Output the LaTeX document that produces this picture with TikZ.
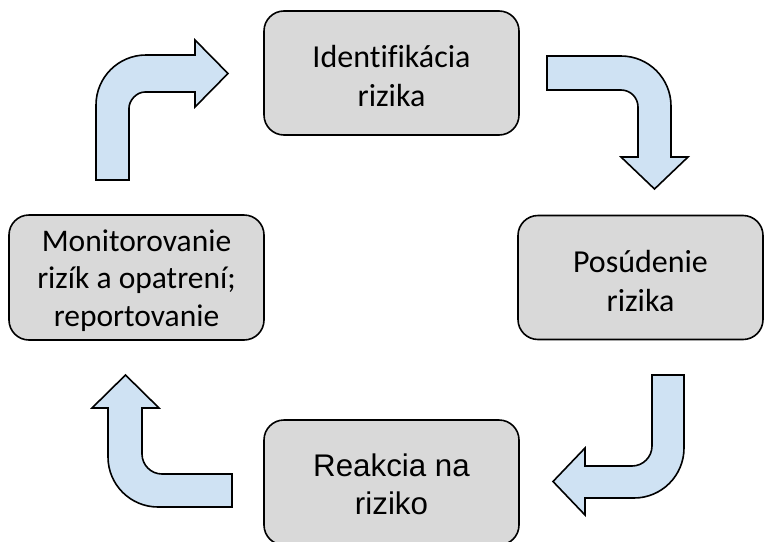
\documentclass[tikz,border=0pt]{standalone}
\usepackage{fontspec}
\setmainfont{Carlito}[Ligatures=NoCommon]
\newfontfamily\arialfont{Liberation Sans}
\definecolor{boxgray}{HTML}{D9D9D9}
\definecolor{arrowblue}{HTML}{CFE2F3}
\begin{document}
\begin{tikzpicture}[x=1pt,y=-1pt,
  stagebox/.style={draw=black, line width=1.6pt, fill=boxgray, rounded corners=20pt,
    inner sep=0pt},
  stagetext/.style={align=center, inner sep=0pt, font=\fontsize{32}{39}\selectfont},
  blockarrow/.style={draw=black, line width=1.6pt, fill=arrowblue, line join=miter}]
\useasboundingbox (0,0) rectangle (765,541);

% process stages
\node[stagebox, minimum width=255pt, minimum height=124pt] (ident) at (391.5,73) {};
\node[stagetext] (identtext) at ([yshift=-3.5pt]ident.center) {Identifikácia\\rizika};

\node[stagebox, minimum width=245pt, minimum height=124pt] (assess) at (640.5,277.5) {};
\node[stagetext] (assesstext) at ([yshift=-4pt]assess.center) {Posúdenie\\rizika};

\node[stagebox, minimum width=255pt, minimum height=125pt] (react) at (391.5,482.5) {};
\node[stagetext, font=\arialfont\fontsize{31.3}{38}\selectfont] (reacttext)
  at ([yshift=-1.5pt]react.center) {Reakcia na\\riziko};

\node[stagebox, minimum width=255pt, minimum height=125pt] (monitor) at (136.5,277.5) {};
\node[stagetext, font=\fontsize{31.5}{37.5}\selectfont] (monitortext)
  at ([yshift=-3pt]monitor.center) {Monitorovanie\\rizík a opatrení;\\reportovanie};

% bent block arrows closing the cycle
% monitor -> identification (up, then right)
\draw[blockarrow] (96,180) -- (96,105) .. controls (96,77.4) and (118.4,55) .. (146,55)
  -- (195,55) -- (195,40) -- (228,73.5) -- (195,107) -- (195,92) -- (145,92)
  .. controls (136.2,92) and (129,100.8) .. (129,108) -- (129,180) -- cycle;
% identification -> assessment (right, then down)
\draw[blockarrow] (547,56) -- (621,56) .. controls (648.6,56) and (671,78.4) .. (671,106)
  -- (671,157) -- (688,157) -- (654.5,189) -- (621,157) -- (638,157) -- (638,107)
  .. controls (638,97.6) and (630.4,90) .. (621,90) -- (547,90) -- cycle;
% assessment -> reaction (down, then left)
\draw[blockarrow] (652,375) -- (684,375) -- (684,448) .. controls (684,475.6) and (661.6,498) .. (634,498)
  -- (585,498) -- (585,515) -- (553,481.5) -- (585,448) -- (585,466) -- (632,466)
  .. controls (643,466) and (652,457) .. (652,446) -- cycle;
% reaction -> monitoring (left, then up)
\draw[blockarrow] (232,474) -- (162,474) .. controls (151,474) and (142,465) .. (142,454)
  -- (142,408) -- (159,408) -- (125.5,375) -- (92,408) -- (108,408) -- (108,457)
  .. controls (108,484.6) and (130.4,507) .. (158,507) -- (232,507) -- cycle;
\end{tikzpicture}
\end{document}
